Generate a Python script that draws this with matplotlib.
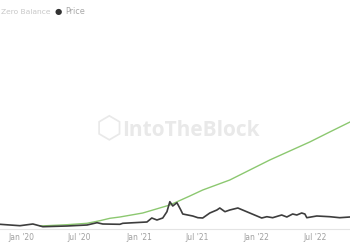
import matplotlib
matplotlib.use("Agg")
import matplotlib.pyplot as plt
import matplotlib.dates as mdates
import numpy as np
import pandas as pd

price_dates = ["2019-10-28", "2019-12-29", "2020-02-07", "2020-03-09", "2020-05-23",
               "2020-07-24", "2020-08-24", "2020-09-11", "2020-11-03", "2020-11-12",
               "2021-01-26", "2021-02-10", "2021-02-26", "2021-03-16", "2021-03-29",
               "2021-04-07", "2021-04-16", "2021-04-29", "2021-05-11", "2021-05-17",
               "2021-06-17", "2021-07-03", "2021-07-18", "2021-08-09", "2021-08-31",
               "2021-09-09", "2021-09-25", "2021-10-10", "2021-11-04", "2021-12-11",
               "2022-01-17", "2022-02-02", "2022-02-20", "2022-03-20", "2022-04-05",
               "2022-04-23", "2022-05-06", "2022-05-21", "2022-05-31", "2022-06-06",
               "2022-07-07", "2022-08-16", "2022-09-16", "2022-10-18"]
price_values = [4.7, 3.3, 5.0, 2.3, 3.0,
                4.0, 6.3, 5.0, 4.7, 5.7,
                7.0, 11.0, 9.0, 11.0, 17.3,
                27.3, 23.0, 26.3, 19.0, 15.0,
                13.0, 11.3, 11.0, 16.0, 19.0,
                21.0, 17.3, 19.0, 21.0, 16.0,
                11.0, 12.3, 11.3, 14.0, 12.0,
                15.0, 14.0, 16.0, 15.0, 11.3,
                13.0, 12.3, 11.3, 12.0]

zero_dates = ["2020-03-01", "2020-05-23", "2020-07-24", "2020-09-02", "2020-10-03",
              "2020-11-03", "2021-01-13", "2021-04-07", "2021-06-08", "2021-07-18",
              "2021-10-10", "2021-12-11", "2022-02-11", "2022-04-14", "2022-06-15",
              "2022-08-16", "2022-10-18"]
zero_values = [3.0, 4.3, 5.7, 8.3, 10.7,
               12.0, 16.0, 24.0, 33.0, 39.0,
               49.0, 59.0, 69.0, 78.0, 87.0,
               97.0, 107.0]

tick_dates = ["2020-01-01", "2020-07-01", "2021-01-01", "2021-07-01", "2022-01-01", "2022-07-01"]
tick_labels = ["Jan '20", "Jul '20", "Jan '21", "Jul '21", "Jan '22", "Jul '22"]

fig = plt.figure(figsize=(3.5, 2.5), dpi=100)
ax = fig.add_axes([0, 0.084, 1, 0.836])

ax.plot(pd.to_datetime(zero_dates), zero_values, color="#8cc870", lw=1.0, zorder=2)
ax.plot(pd.to_datetime(price_dates), price_values, color="#3d3d3d", lw=1.2, zorder=3)

ax.set_xlim(pd.Timestamp("2019-10-28"), pd.Timestamp("2022-10-18"))
ax.set_ylim(0, 209)
ax.set_xticks(pd.to_datetime(tick_dates))
ax.set_xticklabels(tick_labels)
ax.tick_params(axis="x", length=0, labelsize=5.5, labelcolor="#a0a0a0", pad=3)
ax.set_yticks([])
for s in ["top", "left", "right"]:
    ax.spines[s].set_visible(False)
ax.spines["bottom"].set_color("#e4e4e4")
ax.spines["bottom"].set_linewidth(0.8)

# legend
fig.text(0.002, 0.954, "Zero Balance", fontsize=5.4, color="#c8c8c8", va="center", ha="left")
fig.text(0.166, 0.954, "\u25CF", fontsize=6, color="#333333", va="center", ha="center")
fig.text(0.186, 0.954, "Price", fontsize=5.8, color="#a8a8a8", va="center", ha="left")

# watermark
fig.text(0.545, 0.48, "IntoTheBlock", fontsize=15, fontweight="bold", color="#e9e9e9",
         va="center", ha="center", family="Open Sans")
fig.text(0.313, 0.48, "\u2B21", fontsize=22, color="#e9e9e9", va="center", ha="center",
         family="DejaVu Sans")

fig.savefig("out.png", dpi=100)
